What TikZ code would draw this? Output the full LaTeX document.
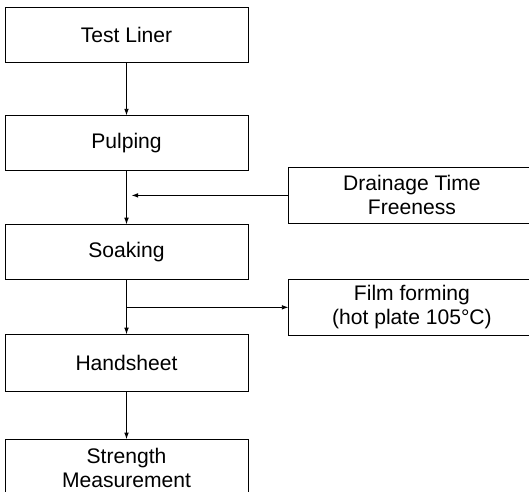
\documentclass[tikz,border=0pt]{standalone}
\usepackage{fontspec}
\setmainfont{Liberation Sans}
\usetikzlibrary{arrows.meta, positioning, calc}

\begin{document}
\begin{tikzpicture}[
    stepbox/.style={rectangle, draw, line width=0.8pt, minimum height=1.65cm,
                    minimum width=7.29cm, align=center,
                    font=\fontsize{18}{20.5}\selectfont},
    sidebox/.style={stepbox, minimum width=7.38cm, minimum height=1.68cm},
    arrow/.style={-{Latex[length=2mm, width=1.4mm]}, line width=0.8pt},
    node distance=1.59cm
  ]
    \useasboundingbox (0,0) rectangle (15.87,-14.76);
    \clip (0,0) rectangle (15.87,-14.76);

    % Main column
    \node[stepbox] (liner) at (3.795,-1.035) {Test Liner};
    \node[stepbox, below=of liner] (pulp) {Pulping};
    \node[stepbox, below=of pulp] (soak) {Soaking};
    \node[stepbox, minimum height=1.71cm, below=1.62cm of soak] (hand) {Handsheet};
    \node[stepbox, minimum height=1.7cm, below=1.41cm of hand] (strength) {Strength\\Measurement};

    % Side boxes
    \node[sidebox, right=1.2cm of $(pulp.south east)!0.5!(soak.north east)$, yshift=0.075cm] (drain) {Drainage Time\\Freeness};
    \node[sidebox, right=1.2cm of $(soak.south east)!0.5!(hand.north east)$] (film) {Film forming\\(hot plate 105°C)};

    % Arrows
    \draw[arrow] (liner.south) -- (pulp.north);
    \draw[arrow] (pulp.south) -- (soak.north);
    \draw[arrow] (soak.south) -- (hand.north);
    \draw[arrow] (hand.south) -- (strength.north);
    \draw[arrow, shorten >=0.15cm] (drain.west) -- (drain.west -| pulp.south);
    \draw[arrow] (film.west -| soak.south) -- (film.west);
  \end{tikzpicture}
\end{document}
